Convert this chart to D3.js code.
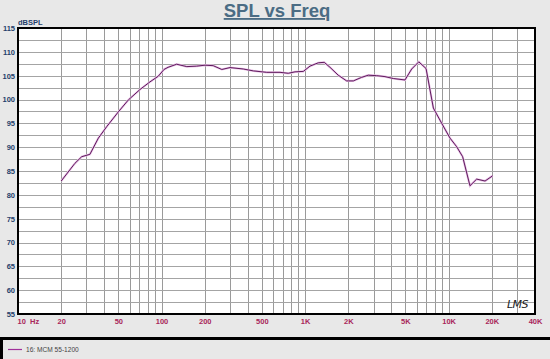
<!DOCTYPE html>
<html>
<head>
<meta charset="utf-8">
<script src="https://cdn.jsdelivr.net/npm/d3@7"></script>
<style>
  body { margin: 0; background: #e8e8e8; }
  svg { display: block; }
</style>
</head>
<body>
<div id="chart"></div>
<script>
var freqs = [20, 24.9, 27.8, 31.7, 36.3, 41.5, 50, 58.7, 70.8, 83.1, 95, 104, 111, 127.5, 150, 176, 201, 229, 263, 300,
  371, 436, 541, 669, 764, 851, 973, 1082, 1236, 1361, 1492, 1703, 1950, 2168, 2480, 2756, 3152, 3604, 4119, 4968,
  5534, 6200, 6966, 7836, 8955, 10233, 11380, 12530, 14090, 15690, 17950, 20290];
var spl = [82.9, 86.6, 88.0, 88.5, 91.9, 94.3, 97.4, 99.9, 102.1, 103.7, 104.9, 106.3, 106.75, 107.4, 106.9, 107.0, 107.2, 107.1, 106.3, 106.7,
  106.4, 106.0, 105.7, 105.7, 105.5, 105.8, 105.9, 107.0, 107.7, 107.8, 106.75, 105.1, 103.9, 103.9, 104.65, 105.1, 105.0, 104.8, 104.4, 104.1,
  106.4, 107.9, 106.5, 98.2, 95.0, 91.9, 90.1, 88.0, 81.9, 83.3, 82.9, 84.0];

var xTicks = [10, 20, 50, 100, 200, 500, 1000, 2000, 5000, 10000, 20000, 40000];
var xTickLabels = ["10  Hz", "20", "50", "100", "200", "500", "1K", "2K", "5K", "10K", "20K", "40K"];
var yTicks = [55, 60, 65, 70, 75, 80, 85, 90, 95, 100, 105, 110, 115];
var seriesName = "16: MCM 55-1200";

var W = 550, H = 359;
var margin = { top: 28, right: 15, bottom: 45, left: 18 };
var pw = W - margin.left - margin.right, ph = 314 - margin.top;

var svg = d3.select("#chart").append("svg").attr("width", W).attr("height", H);

var x = d3.scaleLog().domain([10, 40000]).range([0, pw]);
var y = d3.scaleLinear().domain([55, 115]).range([ph, 0]);

// title
svg.append("text")
  .attr("x", 277).attr("y", 17)
  .attr("text-anchor", "middle")
  .attr("font-family", "Liberation Sans, Arial, sans-serif")
  .attr("font-weight", "bold").attr("font-size", 18.5)
  .attr("fill", "#4b6c84")
  .attr("text-decoration", "underline")
  .text("SPL vs Freq");

var g = svg.append("g").attr("transform", "translate(" + margin.left + "," + margin.top + ")");

g.append("rect").attr("width", pw).attr("height", ph).attr("fill", "#fff");

// grid lines
var minorF = [];
for (var dec = 10; dec <= 10000; dec *= 10) {
  for (var k = 1; k <= 9; k++) {
    if (dec * k <= 40000) minorF.push(dec * k);
  }
}
minorF.push(40000);
g.append("g").attr("class", "xgrid")
  .attr("transform", "translate(0," + ph + ")")
  .call(d3.axisBottom(x).tickValues(minorF).tickSize(-ph).tickFormat(""))
  .call(function (s) { s.select(".domain").remove(); })
  .selectAll("line").attr("stroke", "#9a9a9a").attr("shape-rendering", "crispEdges");

var hGrid = d3.range(55, 115.1, 2.5);
g.append("g").attr("class", "ygrid")
  .call(d3.axisLeft(y).tickValues(hGrid).tickSize(-pw).tickFormat(""))
  .call(function (s) { s.select(".domain").remove(); })
  .selectAll("line").attr("stroke", "#a4a4a4").attr("shape-rendering", "crispEdges");

// frame
g.append("rect").attr("width", pw).attr("height", ph)
  .attr("fill", "none").attr("stroke", "#000").attr("stroke-width", 1.2)
  .attr("shape-rendering", "crispEdges");

// axis labels
var yAxis = g.append("g")
  .call(d3.axisLeft(y).tickValues(yTicks).tickSize(0).tickPadding(3));
yAxis.select(".domain").remove();
yAxis.selectAll("text")
  .attr("font-family", "Liberation Sans, Arial, sans-serif")
  .attr("font-size", 7.5).attr("font-weight", "bold").attr("fill", "#253f6b");

var xAxis = g.append("g")
  .attr("transform", "translate(0," + ph + ")")
  .call(d3.axisBottom(x).tickValues(xTicks).tickSize(0).tickPadding(5)
    .tickFormat(function (d, i) { return xTickLabels[i]; }));
xAxis.select(".domain").remove();
xAxis.selectAll("text")
  .attr("font-family", "Liberation Sans, Arial, sans-serif")
  .attr("font-size", 7.5).attr("font-weight", "bold").attr("fill", "#a8275a")
  .attr("xml:space", "preserve")
  .style("white-space", "pre")
  .attr("text-anchor", function (d, i) { return i == 0 ? "start" : "middle"; })
  .attr("dx", function (d, i) { return i == 0 ? -1 : 0; });

g.append("text")
  .attr("x", 0).attr("y", -3)
  .attr("font-family", "Liberation Sans, Arial, sans-serif")
  .attr("font-size", 7.5).attr("font-weight", "bold").attr("fill", "#253f6b")
  .text("dBSPL");

// curve
var data = freqs.map(function (f, i) { return { f: f, v: spl[i] }; });
var line = d3.line().x(function (d) { return x(d.f); }).y(function (d) { return y(d.v); });
g.append("path").datum(data)
  .attr("d", line)
  .attr("fill", "none").attr("stroke", "#e6bde4").attr("stroke-width", 2.2);
g.append("path").datum(data)
  .attr("d", line)
  .attr("fill", "none").attr("stroke", "#5e1a5c").attr("stroke-width", 1)
  .attr("stroke-linejoin", "round");

// LMS mark
g.append("text")
  .attr("x", pw - 7).attr("y", ph - 6)
  .attr("text-anchor", "end")
  .attr("font-family", "DejaVu Sans, sans-serif")
  .attr("font-style", "italic").attr("font-weight", 300).attr("font-size", 11)
  .attr("letter-spacing", -0.5)
  .attr("fill", "#222")
  .text("LMS");

// legend box
svg.append("line").attr("x1", 0).attr("x2", W).attr("y1", 338.5).attr("y2", 338.5)
  .attr("stroke", "#000").attr("stroke-width", 3);
svg.append("line").attr("x1", 1.5).attr("x2", 1.5).attr("y1", 338).attr("y2", H)
  .attr("stroke", "#000").attr("stroke-width", 3);
svg.append("line").attr("x1", 8).attr("x2", 22).attr("y1", 349.5).attr("y2", 349.5)
  .attr("stroke", "#a0309a").attr("stroke-width", 1.2);
svg.append("text")
  .attr("x", 26).attr("y", 352)
  .attr("font-family", "Liberation Sans, Arial, sans-serif")
  .attr("font-size", 6.6).attr("fill", "#444")
  .text(seriesName);
</script>
</body>
</html>
